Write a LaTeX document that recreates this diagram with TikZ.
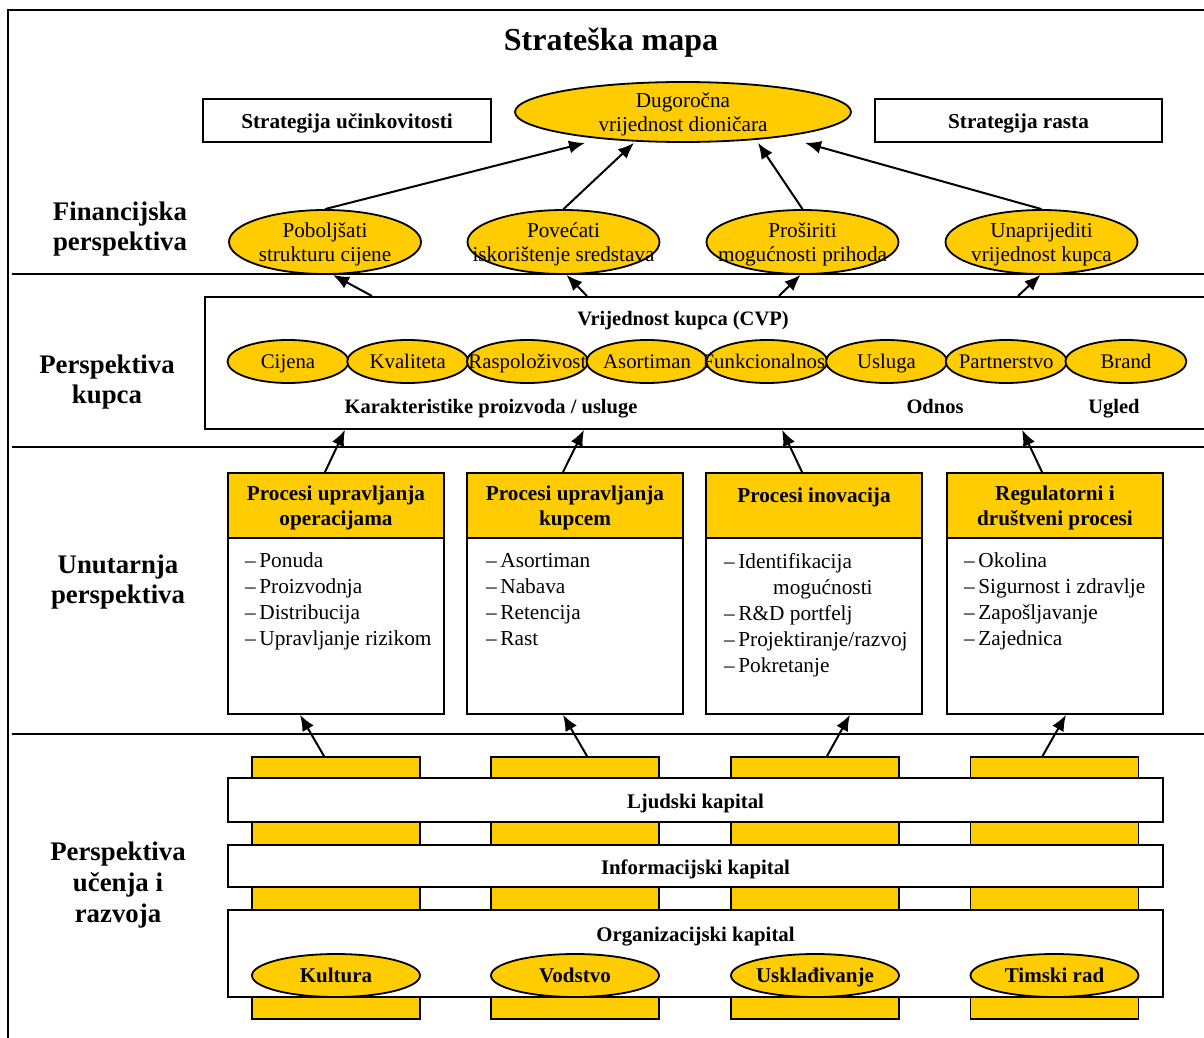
\documentclass[tikz,border=0pt]{standalone}
\usepackage{fontspec}
\setmainfont{Liberation Serif}
\usetikzlibrary{shapes.geometric,arrows.meta,calc}
\definecolor{gold}{HTML}{FFCC00}

\tikzset{
  rule/.style={line width=1.8pt, draw=black},
  plainbox/.style={rectangle, rule, fill=white, inner sep=0pt},
  goldbox/.style={rectangle, rule, fill=gold, inner sep=0pt},
  oval/.style={ellipse, rule, fill=gold, inner sep=0pt},
  txt/.style={inner sep=0pt, align=center, font=\fontsize{21.2}{24}\selectfont},
  onetxt/.style={inner sep=0pt, text height=14.5pt, text depth=0pt, font=\fontsize{21.2}{24}\selectfont},
  btxt/.style={inner sep=0pt, align=center, font=\bfseries\fontsize{21.2}{25}\selectfont},
  onebtxt/.style={inner sep=0pt, text height=14.5pt, text depth=0pt, font=\bfseries\fontsize{21.2}{25}\selectfont},
  sectlabel/.style={inner sep=0pt, align=center, font=\bfseries\fontsize{26.8}{30.5}\selectfont},
  items/.style={inner sep=0pt, align=left, anchor=north west, font=\fontsize{21.3}{26}\selectfont},
  arr/.style={line width=2pt, -{Latex[length=16pt,width=13pt]}},
}

\begin{document}
\begin{tikzpicture}[x=1pt,y=-1pt]
\useasboundingbox (0,0) rectangle (1204,1038);
\fill[white] (0,0) rectangle (1204,1038);
\clip (0,0) rectangle (1204,1038);

% outer frame and perspective separators
\draw[rule] (8,1060) -- (8,10) -- (1230,10);
\draw[rule] (12,274) -- (1230,274);
\draw[rule] (12,447) -- (1230,447);
\draw[rule] (12,734) -- (1230,734);

% title
\node[inner sep=0pt, text height=21pt, text depth=6.5pt, font=\bfseries\fontsize{32}{36}\selectfont] (title) at (611,43.5) {Strateška mapa};

% strategies and top goal
\node[plainbox, minimum width=288, minimum height=43] (seff) at (347,120.5) {};
\node[onebtxt] (sefft) at ($(seff)+(0,1)$) {Strategija učinkovitosti};
\node[plainbox, minimum width=287, minimum height=43] (srast) at (1018.5,120.5) {};
\node[onebtxt] (srastt) at ($(srast)+(0,1)$) {Strategija rasta};
\node[oval, minimum width=336, minimum height=60] (dug) at (683,112) {};
\node[txt] (dugt) at ($(dug)+(0,2)$) {Dugoročna\\vrijednost dioničara};

% financial perspective
\node[sectlabel] (lfin) at (120,229) {Financijska\\perspektiva};
\node[oval, minimum width=192, minimum height=64] (pob) at (325,242) {};
\node[txt] (pobt) at ($(pob)+(0,2)$) {Poboljšati\\strukturu cijene};
\node[oval, minimum width=192, minimum height=64] (pov) at (563.5,242) {};
\node[txt] (povt) at ($(pov)+(0,2)$) {Povećati\\iskorištenje sredstava};
\node[oval, minimum width=192, minimum height=64] (pro) at (802.5,242) {};
\node[txt] (prot) at ($(pro)+(0,2)$) {Proširiti\\mogućnosti prihoda};
\node[oval, minimum width=192, minimum height=64] (una) at (1041.5,242) {};
\node[txt] (unat) at ($(una)+(0,2)$) {Unaprijediti\\vrijednost kupca};

\draw[arr] (pob.north) -- ($(dug.south)+(-98,0)$);
\draw[arr] (pov.north) -- ($(dug.south)+(-49,0)$);
\draw[arr] (pro.north) -- ($(dug.south)+(75,0)$);
\draw[arr] (una.north) -- ($(dug.south)+(122,0)$);

% customer perspective
\node[sectlabel] (lkup) at (107,382) {Perspektiva\\kupca};
\node[plainbox, minimum width=1030, minimum height=132, anchor=north west] (cvp) at (204,296) {};
\node[onebtxt, font=\bfseries\fontsize{20.5}{25}\selectfont] (cvpt) at (683,318.5) {Vrijednost kupca (CVP)};
\foreach \n/\t [count=\i from 0] in {c1/Cijena, c2/Kvaliteta, c3/Raspoloživost, c4/Asortiman,
    c5/Funkcionalnost, c6/Usluga, c7/Partnerstvo, c8/Brand} {
  \node[oval, minimum width=121, minimum height=43] (\n) at ({288+119.7*\i},361.5) {};
  \node[onetxt, font=\fontsize{20.8}{24}\selectfont] (\n t) at (\n) {\t};
}
\node[onebtxt, font=\bfseries\fontsize{20.5}{25}\selectfont] (kar) at (491,406) {Karakteristike proizvoda / usluge};
\node[onebtxt, font=\bfseries\fontsize{20.5}{25}\selectfont] (odn) at (935,406) {Odnos};
\node[onebtxt, font=\bfseries\fontsize{20.5}{25}\selectfont] (ugl) at (1114,406) {Ugled};

\draw[arr] ($(cvp.north west)+(168,0)$) -- ($(pob.south)+(8,0)$);
\draw[arr] ($(cvp.north west)+(383,0)$) -- ($(pov.south)+(3,0)$);
\draw[arr] ($(cvp.north west)+(575,0)$) -- ($(pro.south)+(-2,0)$);
\draw[arr] ($(cvp.north west)+(814,0)$) -- ($(una.south)+(-1,0)$);

% internal perspective
\node[sectlabel] (lunu) at (118,582) {Unutarnja\\perspektiva};
\foreach \n/\x in {p1/336, p2/575, p3/814, p4/1055} {
  \node[plainbox, minimum width=216, minimum height=241, anchor=north] (\n) at (\x,472) {};
  \node[goldbox, minimum width=216, minimum height=65, anchor=north] (\n h) at (\x,472) {};
}
\node[btxt] (p1t) at ($(p1h)+(0,2.5)$) {Procesi upravljanja\\operacijama};
\node[btxt] (p2t) at ($(p2h)+(0,2.5)$) {Procesi upravljanja\\kupcem};
\node[btxt] (p3t) at ($(p3h)+(0,2.5)$) {Procesi inovacija\\\mbox{}};
\node[btxt] (p4t) at ($(p4h)+(0,2.5)$) {Regulatorni i\\društveni procesi};

\node[items] (p1i) at (245,553) {–\,Ponuda\\–\,Proizvodnja\\–\,Distribucija\\–\,Upravljanje rizikom};
\node[items] (p2i) at (486,553) {–\,Asortiman\\–\,Nabava\\–\,Retencija\\–\,Rast};
\node[items] (p3i) at (724,553) {–\,Identifikacija\\\hspace*{49pt}mogućnosti\\–\,R\&D portfelj\\–\,Projektiranje/razvoj\\–\,Pokretanje};
\node[items] (p4i) at (964,553) {–\,Okolina\\–\,Sigurnost i zdravlje\\–\,Zapošljavanje\\–\,Zajednica};

\draw[arr] ($(p1.north)+(-11,0)$) -- ($(cvp.south west)+(141,0)$);
\draw[arr] ($(p2.north)+(-12,0)$) -- ($(cvp.south west)+(380,0)$);
\draw[arr] ($(p3.north)+(-12,0)$) -- ($(cvp.south west)+(578,0)$);
\draw[arr] ($(p4.north)+(-13,0)$) -- ($(cvp.south west)+(818,0)$);

% learning and growth perspective
\node[sectlabel, font=\bfseries\fontsize{26.8}{31}\selectfont] (lucr) at (118,885) {Perspektiva\\učenja i\\razvoja};
\foreach \n/\x in {pil1/336, pil2/575, pil3/815, pil4/1054.5} {
  \node[goldbox, minimum width=168, minimum height=262] (\n) at (\x,888) {};
}
\node[plainbox, minimum width=935, minimum height=44] (lju) at (695.5,800) {};
\node[onebtxt, font=\bfseries\fontsize{20.8}{25}\selectfont] (ljut) at ($(lju)+(0,1)$) {Ljudski kapital};
\node[plainbox, minimum width=935, minimum height=42] (inf) at (695.5,866) {};
\node[onebtxt, font=\bfseries\fontsize{20.8}{25}\selectfont] (inft) at ($(inf)+(0,1)$) {Informacijski kapital};
\node[plainbox, minimum width=935, minimum height=87] (org) at (695.5,953.5) {};
\node[onebtxt, font=\bfseries\fontsize{20.8}{25}\selectfont] (orgt) at (695.5,934) {Organizacijski kapital};
\foreach \n/\x/\t in {o1/336/Kultura, o2/575/Vodstvo, o3/815/Usklađivanje, o4/1054.5/Timski rad} {
  \node[oval, minimum width=168, minimum height=43] (\n) at (\x,975.5) {};
  \node[onebtxt, font=\bfseries\fontsize{21}{24}\selectfont] (\n t) at (\n) {\t};
}

\draw[arr] ($(pil1.north)+(-12,0)$) -- ($(p1.south)+(-36,0)$);
\draw[arr] ($(pil2.north)+(12,0)$) -- ($(p2.south)+(-12,0)$);
\draw[arr] ($(pil3.north)+(12,0)$) -- ($(p3.south)+(36,0)$);
\draw[arr] ($(pil4.north)+(-12,0)$) -- ($(p4.south)+(11,0)$);
\end{tikzpicture}
\end{document}
